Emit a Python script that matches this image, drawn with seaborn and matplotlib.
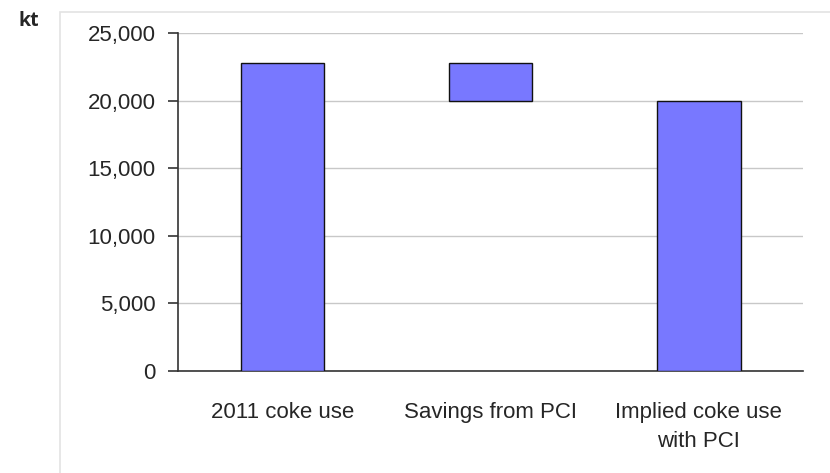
import matplotlib
matplotlib.use("Agg")
import matplotlib.pyplot as plt
import matplotlib.ticker as mticker
from matplotlib.patches import Rectangle
import seaborn as sns
import pandas as pd

categories = ["2011 coke use", "Savings from PCI", "Implied coke use\nwith PCI"]
bar_tops = [22800, 22800, 19950]
bar_bottoms = [0, 19950, 0]
y_ticks = [0, 5000, 10000, 15000, 20000, 25000]

df = pd.DataFrame({"cat": categories,
                   "height": [t - b for t, b in zip(bar_tops, bar_bottoms)]})

sns.set_style("white")
plt.rcParams["font.family"] = ["Liberation Sans", "DejaVu Sans"]

fig = plt.figure(figsize=(8.3, 4.73), dpi=100)
ax = fig.add_axes([0.2145, 0.2156, 0.753, 0.7146])

# light frame around the chart area
fig.patches.append(Rectangle((0.072, -0.05), 1.0, 1.025, transform=fig.transFigure,
                             facecolor="none", edgecolor="#e3e3e3", lw=1.2))

sns.barplot(data=df, x="cat", y="height", bottom=bar_bottoms, ax=ax,
            color="#7878FF", saturation=1, width=0.4,
            edgecolor="#111111", linewidth=1.0, zorder=3)

ax.set_ylim(0, 25000)
ax.set_xlim(-0.5, 2.5)
ax.set_yticks(y_ticks)
ax.yaxis.set_major_formatter(mticker.FuncFormatter(lambda v, p: f"{int(v):,}"))
ax.yaxis.grid(True, color="#c8c8c8", lw=1.0, zorder=0)
ax.set_axisbelow(True)

ax.set_xticks([-0.5, 0.5, 1.5, 2.5])
ax.set_xticklabels([])
ax.set_xticks([0, 1, 2], minor=True)
ax.set_xticklabels(categories, minor=True, fontsize=16, linespacing=1.55)
ax.tick_params(axis="x", which="minor", length=0, pad=22)
ax.tick_params(axis="x", which="major", length=7, width=1.2, color="#333333", direction="out")
ax.tick_params(axis="y", length=7, width=1.2, color="#333333", labelsize=16, pad=9, left=True)

for s in ["top", "right"]:
    ax.spines[s].set_visible(False)
for s in ["left", "bottom"]:
    ax.spines[s].set_color("#333333")
    ax.spines[s].set_linewidth(1.2)

ax.set_xlabel("")
ax.set_ylabel("")

fig.text(0.022, 0.955, "kt", fontsize=14, fontweight="bold",
         family=["Open Sans", "DejaVu Sans"], va="center", ha="left")

fig.savefig("out.png", dpi=100)
